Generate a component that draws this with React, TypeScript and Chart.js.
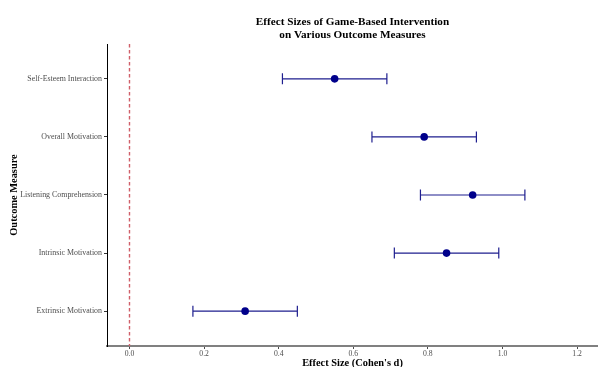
import React, { useEffect, useRef } from "react";
import { Chart, registerables } from "chart.js";

Chart.register(...registerables);

const categories = [
  "Extrinsic Motivation",
  "Intrinsic Motivation",
  "Listening Comprehension",
  "Overall Motivation",
  "Self-Esteem Interaction",
];
const effectSizes = [0.31, 0.85, 0.92, 0.79, 0.55];
const ciLower = [0.17, 0.71, 0.78, 0.65, 0.41];
const ciUpper = [0.45, 0.99, 1.06, 0.93, 0.69];
const xTicks = [0, 0.2, 0.4, 0.6, 0.8, 1.0, 1.2];
const referenceLine = 0;
const titleLines = ["Effect Sizes of Game-Based Intervention", "on Various Outcome Measures"];
const xTitle = "Effect Size (Cohen's d)";
const yTitle = "Outcome Measure";

const FONT = "'Liberation Serif', 'Times New Roman', serif";

export default function App() {
  const ref = useRef<HTMLCanvasElement | null>(null);

  useEffect(() => {
    if (!ref.current) return;

    const errorBars = {
      id: "errorBars",
      beforeDatasetsDraw(chart: any) {
        const { ctx, scales, chartArea } = chart;
        const xs = scales.x;
        const ys = scales.y;
        ctx.save();
        const x0 = xs.getPixelForValue(referenceLine);
        ctx.strokeStyle = "#d0606a";
        ctx.lineWidth = 1.4;
        ctx.setLineDash([3.5, 2.5]);
        ctx.beginPath();
        ctx.moveTo(x0, chartArea.top);
        ctx.lineTo(x0, chartArea.bottom);
        ctx.stroke();
        ctx.setLineDash([]);
        ctx.strokeStyle = "#1f1f8f";
        ctx.lineWidth = 1.2;
        effectSizes.forEach((_, i) => {
          const y = ys.getPixelForValue(i + 1);
          const xl = xs.getPixelForValue(ciLower[i]);
          const xr = xs.getPixelForValue(ciUpper[i]);
          ctx.beginPath();
          ctx.moveTo(xl, y);
          ctx.lineTo(xr, y);
          ctx.moveTo(xl, y - 5.5);
          ctx.lineTo(xl, y + 5.5);
          ctx.moveTo(xr, y - 5.5);
          ctx.lineTo(xr, y + 5.5);
          ctx.stroke();
        });
        ctx.restore();
      },
      afterDraw(chart: any) {
        const { ctx, chartArea } = chart;
        ctx.save();
        ctx.fillStyle = "#000";
        ctx.font = `bold 11.2px ${FONT}`;
        ctx.textAlign = "center";
        ctx.textBaseline = "alphabetic";
        const cx = (chartArea.left + chartArea.right) / 2;
        ctx.fillText(titleLines[0], cx, 25);
        ctx.fillText(titleLines[1], cx, 38);
        ctx.restore();
      },
    };

    const chart = new Chart(ref.current, {
      type: "scatter",
      data: {
        datasets: [
          {
            data: effectSizes.map((v, i) => ({ x: v, y: i + 1 })),
            pointRadius: 3.8,
            pointHoverRadius: 3.8,
            backgroundColor: "#00008B",
            borderColor: "#00008B",
            borderWidth: 0,
          },
        ],
      },
      options: {
        responsive: false,
        animation: false,
        events: [],
        layout: { autoPadding: false, padding: { top: 44, left: 0, right: 0, bottom: 0 } },
        plugins: {
          legend: { display: false },
          tooltip: { enabled: false },
          title: { display: false },
        },
        scales: {
          x: {
            type: "linear",
            min: -0.0603,
            max: 1.256,
            afterBuildTicks: (s: any) => {
              s.ticks = xTicks.map((v) => ({ value: v }));
            },
            afterFit: (s: any) => {
              s.height = 21;
              s.paddingLeft = 0;
              s.paddingRight = 0;
            },
            ticks: {
              callback: (v: any) => Number(v).toFixed(1),
              font: { family: FONT, size: 7.7 },
              color: "#4d4d4d",
              padding: 0,
              maxRotation: 0,
              autoSkip: false,
            },
            grid: {
              drawOnChartArea: false,
              color: "rgba(0,0,0,0)",
              tickColor: "#4d4d4d",
              tickLength: 3,
            },
            border: { display: true, color: "#808080", width: 2 },
            title: {
              display: true,
              text: xTitle,
              color: "#000",
              font: { family: FONT, size: 10.4, weight: "bold", lineHeight: 0.8 },
              padding: { top: 0, bottom: 0 },
            },
          },
          y: {
            type: "linear",
            min: 0.4,
            max: 5.6,
            afterBuildTicks: (s: any) => {
              s.ticks = categories.map((_, i) => ({ value: i + 1 }));
            },
            afterFit: (s: any) => {
              s.width = 107;
              s.paddingTop = 0;
              s.paddingBottom = 0;
            },
            ticks: {
              callback: (v: any) => categories[Math.round(Number(v)) - 1] ?? "",
              font: { family: FONT, size: 7.9 },
              color: "#4d4d4d",
              padding: 2,
              autoSkip: false,
            },
            grid: {
              drawOnChartArea: false,
              color: "rgba(0,0,0,0)",
              tickColor: "#333333",
              tickLength: 3,
            },
            border: { display: true, color: "#000", width: 1 },
            title: {
              display: true,
              text: yTitle,
              color: "#000",
              font: { family: FONT, size: 10.4, weight: "bold", lineHeight: 1.2 },
              padding: { top: 8, bottom: 0 },
            },
          },
        },
      },
      plugins: [errorBars],
    } as any);

    return () => chart.destroy();
  }, []);

  return (
    <div style={{ position: "fixed", left: 0, top: 0, width: 598, height: 367, background: "#fff" }}>
      <canvas ref={ref} width={598} height={367} style={{ display: "block", width: 598, height: 367 }} />
    </div>
  );
}
